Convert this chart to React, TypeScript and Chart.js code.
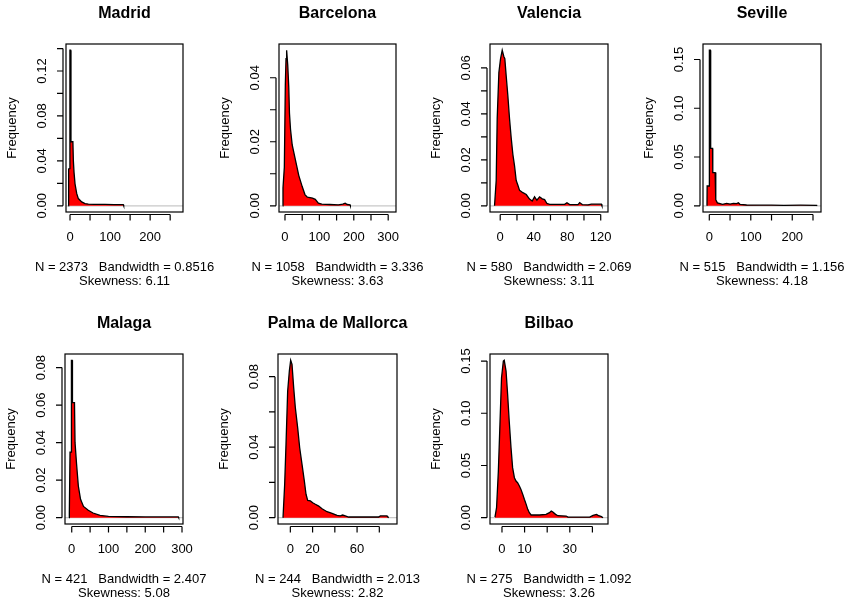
import { useEffect, useRef } from "react";
import { Chart, registerables } from "chart.js";

Chart.register(...registerables);

// ---- Data ----
const cities = ["Madrid", "Barcelona", "Valencia", "Seville", "Malaga", "Palma de Mallorca", "Bilbao"];
const sampleSizes = [2373, 1058, 580, 515, 421, 244, 275];
const bandwidths = ["0.8516", "3.336", "2.069", "1.156", "2.407", "2.013", "1.092"];
const skewness = ["6.11", "3.63", "3.11", "4.18", "5.08", "2.82", "3.26"];

const madridX = [-4.2, -3.4, -1.0, -0.2, 1.4, 2.4, 7.2, 8.4, 10, 12.5, 16.7, 20.8, 29.2, 37.5, 45.8, 60, 87.5, 110, 133, 134];
const madridY = [0, 0.0327, 0.033, 0.1385, 0.1385, 0.057, 0.057, 0.04, 0.03, 0.0196, 0.011, 0.0064, 0.0035, 0.002, 0.0015, 0.0013, 0.0012, 0.001, 0.001, 0];

const barcelonaX = [-6.8, -5.8, -1.9, 1.0, 3.0, 4.8, 8, 11, 13, 16, 21, 30, 40, 50, 58, 65, 80, 88, 97, 107, 130, 155, 168, 175, 181, 189, 190];
const barcelonaY = [0, 0.0056, 0.012, 0.038, 0.046, 0.0486, 0.044, 0.037, 0.029, 0.024, 0.019, 0.0145, 0.0095, 0.006, 0.0035, 0.0027, 0.0024, 0.002, 0.0008, 0.0005, 0.0004, 0.0003, 0.0005, 0.0008, 0.0004, 0.0003, 0];

const valenciaX = [-6.8, -4.8, -3.6, -1.6, 0.4, 2.4, 4.3, 5.5, 7.1, 9.1, 11.1, 13.1, 15.1, 17.1, 19.1, 21.1, 23.1, 27.1, 31.1, 35, 38.2, 41, 43.8, 47, 50.2, 53, 55.8, 59, 76.9, 79.7, 82.9, 92.9, 94.9, 98, 104.8, 108.8, 120.8, 121.5];
const valenciaY = [0, 0.011, 0.038, 0.058, 0.064, 0.0677, 0.065, 0.064, 0.0567, 0.048, 0.038, 0.0296, 0.0224, 0.0174, 0.011, 0.0089, 0.0067, 0.0057, 0.0049, 0.0029, 0.0021, 0.0039, 0.0024, 0.0039, 0.003, 0.0027, 0.001, 0.0006, 0.0006, 0.0013, 0.0005, 0.0005, 0.0014, 0.0005, 0.0004, 0.0007, 0.0007, 0];

const sevilleX = [-5.6, -5.2, -0.6, 0.2, 2.4, 3.3, 7.8, 8.4, 14, 15.6, 19.4, 25.9, 32, 42, 50, 58, 66, 70, 74, 90, 120, 150, 180, 220, 259, 260];
const sevilleY = [0, 0.0203, 0.0203, 0.1595, 0.1595, 0.0588, 0.0588, 0.034, 0.034, 0.006, 0.003, 0.0022, 0.0015, 0.0025, 0.0018, 0.0025, 0.0022, 0.003, 0.0015, 0.0008, 0.0006, 0.0006, 0.0005, 0.0006, 0.0005, 0];

const malagaX = [-7.4, -6.5, -4.6, -1.5, -0.8, 1.2, 2.0, 7.5, 9, 13, 18, 24, 32, 45, 58, 77, 100, 150, 200, 250, 290, 291];
const malagaY = [0, 0.0027, 0.035, 0.035, 0.0839, 0.0839, 0.0613, 0.0613, 0.04, 0.029, 0.0169, 0.0098, 0.006, 0.004, 0.0025, 0.0012, 0.0007, 0.0005, 0.0004, 0.0004, 0.0004, 0];

const palmaX = [-6.6, -5.1, -3.9, -2.4, -0.9, 0.3, 1.5, 3.0, 4.5, 6.6, 8.4, 10.5, 12.6, 14.1, 15.6, 18, 20.1, 22.5, 25.5, 28.5, 33, 37.5, 42, 44.9, 47, 49.4, 52.4, 79.4, 80.9, 86.9, 88.4];
const palmaY = [0, 0.019, 0.0416, 0.0719, 0.0832, 0.0893, 0.087, 0.0738, 0.0624, 0.051, 0.0397, 0.0303, 0.0208, 0.0133, 0.0098, 0.0095, 0.0085, 0.0076, 0.0066, 0.0051, 0.0034, 0.0025, 0.0013, 0.001, 0.0015, 0.001, 0.0004, 0.0004, 0.001, 0.001, 0];

const bilbaoX = [-3.1, -2.4, -1.6, -0.9, -0.2, 0.6, 1.0, 1.8, 2.5, 3.2, 4.0, 4.7, 5.5, 6.2, 6.9, 7.7, 8.4, 9.2, 9.9, 10.7, 11.4, 12.1, 12.9, 13.6, 16.6, 19.5, 21.0, 21.8, 22.5, 23.7, 24.7, 28.4, 29.2, 38.8, 40.3, 41.8, 42.5, 44, 44.7];
const bilbaoY = [0.0006, 0.0096, 0.0447, 0.0894, 0.134, 0.15, 0.1507, 0.1404, 0.118, 0.0926, 0.067, 0.0479, 0.0383, 0.0351, 0.0335, 0.0303, 0.0271, 0.0223, 0.0176, 0.0128, 0.008, 0.0048, 0.0026, 0.0026, 0.0026, 0.0032, 0.0048, 0.0064, 0.0054, 0.0032, 0.0019, 0.0016, 0.0006, 0.0006, 0.0022, 0.0032, 0.0022, 0.001, 0];

// ---- Tick labels ----
const madridXTicks = [0, 50, 100, 150, 200, 250];
const madridXLabels = [0, 100, 200];
const madridYTicks = [0, 0.02, 0.04, 0.06, 0.08, 0.1, 0.12, 0.14];
const madridYLabels = ["0.00", "0.04", "0.08", "0.12"];

const barcelonaXTicks = [0, 50, 100, 150, 200, 250, 300];
const barcelonaXLabels = [0, 100, 200, 300];
const barcelonaYTicks = [0, 0.01, 0.02, 0.03, 0.04];
const barcelonaYLabels = ["0.00", "0.02", "0.04"];

const valenciaXTicks = [0, 20, 40, 60, 80, 100, 120];
const valenciaXLabels = [0, 40, 80, 120];
const valenciaYTicks = [0, 0.01, 0.02, 0.03, 0.04, 0.05, 0.06];
const valenciaYLabels = ["0.00", "0.02", "0.04", "0.06"];

const sevilleXTicks = [0, 50, 100, 150, 200, 250];
const sevilleXLabels = [0, 100, 200];
const sevilleYTicks = [0, 0.05, 0.1, 0.15];
const sevilleYLabels = ["0.00", "0.05", "0.10", "0.15"];

const malagaXTicks = [0, 50, 100, 150, 200, 250, 300];
const malagaXLabels = [0, 100, 200, 300];
const malagaYTicks = [0, 0.02, 0.04, 0.06, 0.08];
const malagaYLabels = ["0.00", "0.02", "0.04", "0.06", "0.08"];

const palmaXTicks = [0, 20, 40, 60, 80];
const palmaXLabels = [0, 20, 60];
const palmaYTicks = [0, 0.02, 0.04, 0.06, 0.08];
const palmaYLabels = ["0.00", "0.04", "0.08"];

const bilbaoXTicks = [0, 10, 20, 30, 40];
const bilbaoXLabels = [0, 10, 30];
const bilbaoYTicks = [0, 0.05, 0.1, 0.15];
const bilbaoYLabels = ["0.00", "0.05", "0.10", "0.15"];

// x-axis limits per panel
const xLimits = [
  [-10, 282],
  [-17.4, 322.7],
  [-12.2, 128.7],
  [-15.2, 269.3],
  [-18.3, 302.7],
  [-11.1, 95.9],
  [-5.3, 46.9],
];

const seriesX = [madridX, barcelonaX, valenciaX, sevilleX, malagaX, palmaX, bilbaoX];
const seriesY = [madridY, barcelonaY, valenciaY, sevilleY, malagaY, palmaY, bilbaoY];
const xTicksAll = [madridXTicks, barcelonaXTicks, valenciaXTicks, sevilleXTicks, malagaXTicks, palmaXTicks, bilbaoXTicks];
const xLabelsAll = [madridXLabels, barcelonaXLabels, valenciaXLabels, sevilleXLabels, malagaXLabels, palmaXLabels, bilbaoXLabels];
const yTicksAll = [madridYTicks, barcelonaYTicks, valenciaYTicks, sevilleYTicks, malagaYTicks, palmaYTicks, bilbaoYTicks];
const yLabelsAll = [madridYLabels, barcelonaYLabels, valenciaYLabels, sevilleYLabels, malagaYLabels, palmaYLabels, bilbaoYLabels];

// ---- Layout (page coordinates) ----
const PAGE_W = 847;
const PAGE_H = 604;
// plot box [left, right, top, bottom] in page coordinates
const boxes = [
  [66, 183, 44, 212],
  [279, 396, 44, 212],
  [490, 608, 44, 212],
  [703, 821, 44, 212],
  [65, 183, 354, 524],
  [278, 397, 354, 524],
  [490, 608, 354, 524],
];

const FONT = '"Liberation Sans", Arial, Helvetica, sans-serif';

function makeRPlugin(i: number) {
  return {
    id: "rStyle" + i,
    beforeDatasetsDraw(chart: any) {
      const { ctx, chartArea: a } = chart;
      const y0 = chart.scales.y.getPixelForValue(0);
      ctx.save();
      ctx.strokeStyle = "#c8c8c8";
      ctx.lineWidth = 1.2;
      ctx.beginPath();
      ctx.moveTo(a.left, y0);
      ctx.lineTo(a.right, y0);
      ctx.stroke();
      ctx.restore();
    },
    afterDraw(chart: any) {
      const { ctx, chartArea: a } = chart;
      const xs = chart.scales.x;
      const ys = chart.scales.y;
      ctx.save();
      ctx.strokeStyle = "#000";
      ctx.fillStyle = "#000";
      ctx.lineWidth = 1.2;
      // box
      ctx.strokeRect(a.left, a.top, a.right - a.left, a.bottom - a.top);

      // y axis
      const yt = yTicksAll[i];
      const axX = a.left - 3;
      ctx.beginPath();
      ctx.moveTo(axX, ys.getPixelForValue(yt[0]));
      ctx.lineTo(axX, ys.getPixelForValue(yt[yt.length - 1]));
      for (const v of yt) {
        const py = ys.getPixelForValue(v);
        ctx.moveTo(axX, py);
        ctx.lineTo(axX - 6, py);
      }
      ctx.stroke();
      ctx.font = "13px " + FONT;
      ctx.textAlign = "center";
      ctx.textBaseline = "middle";
      for (const lab of yLabelsAll[i]) {
        const py = ys.getPixelForValue(parseFloat(lab));
        ctx.save();
        ctx.translate(a.left - 23.5, py);
        ctx.rotate(-Math.PI / 2);
        ctx.fillText(lab, 0, 0);
        ctx.restore();
      }

      // x axis
      const xt = xTicksAll[i];
      const axY = a.bottom + 2.5;
      ctx.beginPath();
      ctx.moveTo(xs.getPixelForValue(xt[0]), axY);
      ctx.lineTo(xs.getPixelForValue(xt[xt.length - 1]), axY);
      for (const v of xt) {
        const px = xs.getPixelForValue(v);
        ctx.moveTo(px, axY);
        ctx.lineTo(px, axY + 6);
      }
      ctx.stroke();
      for (const v of xLabelsAll[i]) {
        ctx.fillText(String(v), xs.getPixelForValue(v), a.bottom + 25);
      }

      const cx = (a.left + a.right) / 2;
      const cy = (a.top + a.bottom) / 2;
      // y title
      ctx.save();
      ctx.translate(a.left - 54, cy);
      ctx.rotate(-Math.PI / 2);
      ctx.fillText("Frequency", 0, 0);
      ctx.restore();

      // sub text
      ctx.fillText("N = " + sampleSizes[i] + "   Bandwidth = " + bandwidths[i], cx, a.bottom + 55);
      ctx.fillText("Skewness: " + skewness[i], cx, a.bottom + 69.5);

      // title
      ctx.font = "bold 16px " + FONT;
      ctx.fillText(cities[i], cx, a.top - 30);
      ctx.restore();
    },
  };
}

function Panel({ i }: { i: number }) {
  const ref = useRef<HTMLCanvasElement | null>(null);
  useEffect(() => {
    const canvas = ref.current;
    if (!canvas) return;
    const [bl, br, bt, bb] = boxes[i];
    const xv = seriesX[i];
    const yv = seriesY[i];
    const peak = Math.max(...yv);
    const chart = new Chart(canvas, {
      type: "line",
      data: {
        datasets: [
          {
            data: xv.map((x, k) => ({ x, y: yv[k] })),
            borderColor: "#000000",
            backgroundColor: "#ff0000",
            borderWidth: 1.3,
            fill: "origin",
            pointRadius: 0,
            tension: 0,
          },
        ],
      },
      options: {
        responsive: false,
        animation: false,
        devicePixelRatio: 1,
        layout: {
          padding: {
            left: bl,
            right: PAGE_W - br,
            top: bt,
            bottom: PAGE_H - bb,
          },
        },
        scales: {
          x: { type: "linear", min: xLimits[i][0], max: xLimits[i][1], display: false },
          y: { type: "linear", min: -0.04 * peak, max: 1.04 * peak, display: false },
        },
        plugins: {
          legend: { display: false },
          tooltip: { enabled: false },
          title: { display: false },
        },
      },
      plugins: [makeRPlugin(i)],
    } as any);
    return () => chart.destroy();
  }, [i]);
  return (
    <canvas
      ref={ref}
      width={PAGE_W}
      height={PAGE_H}
      style={{ position: "absolute", left: 0, top: 0, width: PAGE_W, height: PAGE_H }}
    />
  );
}

export default function App() {
  return (
    <div
      style={{
        position: "absolute",
        left: 0,
        top: 0,
        width: PAGE_W,
        height: PAGE_H,
        background: "#ffffff",
        overflow: "hidden",
      }}
    >
      {cities.map((_, i) => (
        <Panel key={i} i={i} />
      ))}
    </div>
  );
}
